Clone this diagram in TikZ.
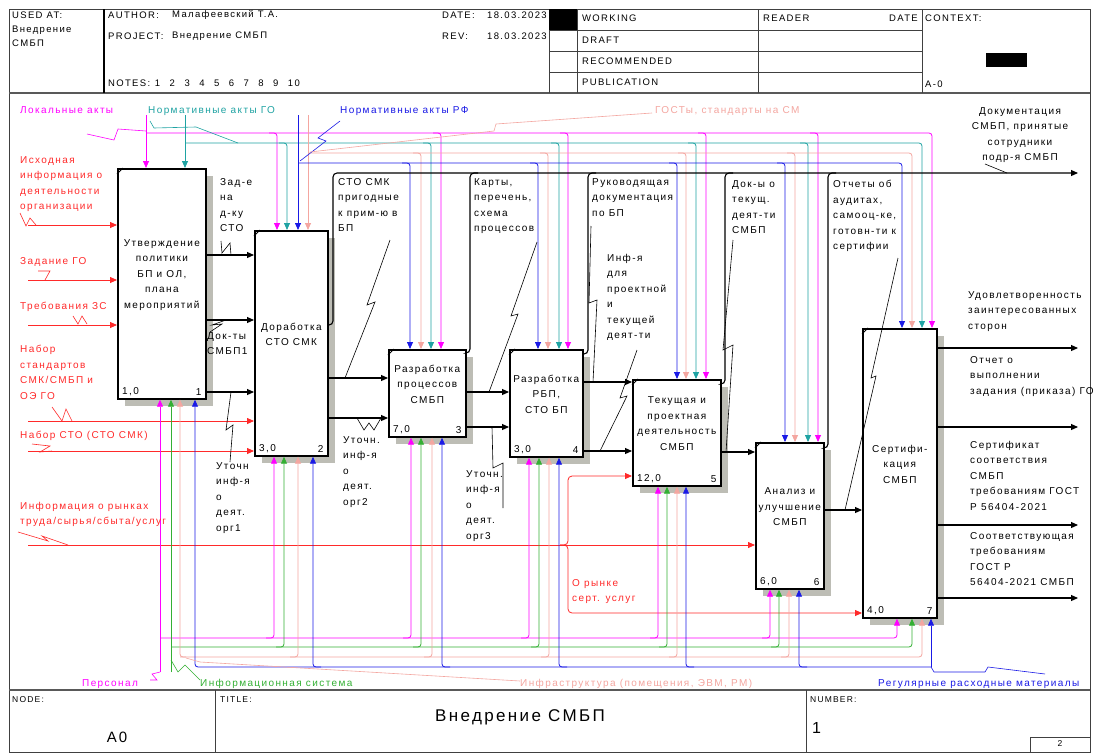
\documentclass[tikz,border=0pt]{standalone}
\usepackage{fontspec}
\setmainfont{Liberation Sans}[LetterSpace=14]
\usetikzlibrary{arrows.meta, calc}
\definecolor{cMag}{HTML}{FF00FF}
\definecolor{cTeal}{HTML}{1FA3A3}
\definecolor{cBlue}{HTML}{1A1AE6}
\definecolor{cSalm}{HTML}{F4A6A0}
\definecolor{cGreen}{HTML}{33B033}
\definecolor{cRed}{HTML}{FF2A2A}
\definecolor{cShade}{HTML}{BDBDB5}

\begin{document}
\begin{tikzpicture}[x=1pt, y=-1pt,
    every node/.style={inner sep=0pt, font=\fontsize{10}{15.5}\selectfont},
    txt/.style={align=left, anchor=north west},
    hdr/.style={anchor=west, font=\fontsize{9.5}{14}\selectfont},
    fn/.style={draw, line width=1.7pt, fill=white, anchor=north west},
    fntxt/.style={align=center},
    num/.style={font=\fontsize{10}{12}\selectfont},
    arr/.style={-{Triangle[length=7pt,width=6pt]}},
    ln/.style={line width=1.1pt},
    lead/.style={line width=0.6pt},
    mag/.style={draw=cMag, line width=0.8pt},
    tea/.style={draw=cTeal, line width=0.8pt},
    blu/.style={draw=cBlue, line width=0.8pt},
    sal/.style={draw=cSalm, line width=0.8pt},
    grn/.style={draw=cGreen, line width=0.8pt},
    rd/.style={draw=cRed, line width=0.8pt}]
  \useasboundingbox[fill=white] (0,0) rectangle (1098,755);

  % frame, header and footer
  \draw[line width=1pt, black!75] (9,9) rectangle (1090,752);
  \draw[line width=1.3pt, black!65] (9,93) -- (1090,93);
  \draw[line width=1.3pt, black!65] (9,690) -- (1090,690);
  \draw[line width=1.2pt] (104,9) -- (104,93);
  \foreach \x in {549,577,758,922} \draw[black!75] (\x,9) -- (\x,93);
  \foreach \y in {30,51,72} \draw[black!75] (549,\y) -- (922,\y);
  \fill (549,9) rectangle (577,30);
  \fill (986,53) rectangle (1027,67);
  \draw[black!75] (215,690) -- (215,752);
  \draw[black!75] (806,690) -- (806,752);
  \draw[black!75] (1030,737) rectangle (1090,752);

  \node[txt, font=\fontsize{9.5}{14}\selectfont] (usedat) at (12,12) {USED AT:\\Внедрение\\СМБП};
  \node[hdr] (author) at (108,15) {AUTHOR:};
  \node[hdr] (authorv) at (172,15) {Малафеевский Т.А.};
  \node[hdr] (project) at (108,36) {PROJECT:};
  \node[hdr] (projectv) at (172,36) {Внедрение СМБП};
  \node[hdr] (notes) at (108,83) {NOTES:\enspace 1\enspace\enspace 2\enspace\enspace 3\enspace\enspace 4\enspace\enspace 5\enspace\enspace 6\enspace\enspace 7\enspace\enspace 8\enspace\enspace 9\enspace\enspace 10};
  \node[hdr] (date) at (442,15) {DATE:};
  \node[hdr] (datev) at (487,15) {18.03.2023};
  \node[hdr] (rev) at (442,36) {REV:};
  \node[hdr] (revv) at (487,36) {18.03.2023};
  \node[hdr] (working) at (582,18) {WORKING};
  \node[hdr] (draft) at (582,40) {DRAFT};
  \node[hdr] (recom) at (582,61) {RECOMMENDED};
  \node[hdr] (public) at (582,82) {PUBLICATION};
  \node[hdr] (reader) at (763,18) {READER};
  \node[hdr, anchor=east] (rdate) at (918,18) {DATE};
  \node[hdr] (context) at (925,18) {CONTEXT:};
  \node[hdr] (ctxnode) at (925,84) {A-0};

  \node[hdr, font=\fontsize{8.5}{10}\selectfont] (nodel) at (12,700) {NODE:};
  \node[font=\fontsize{15}{18}\selectfont] (nodev) at (117,737) {A0};
  \node[hdr, font=\fontsize{8.5}{10}\selectfont] (titlel) at (220,700) {TITLE:};
  \node[font=\fontsize{17}{20}\selectfont] (title) at (520,717) {Внедрение СМБП};
  \node[hdr, font=\fontsize{8.5}{10}\selectfont] (numberl) at (810,700) {NUMBER:};
  \node[hdr, font=\fontsize{16}{18}\selectfont] (numberv) at (812,728) {1};
  \node[font=\fontsize{8.5}{10}\selectfont] (page) at (1060,744) {2};

  % function boxes
  \foreach \n/\x/\y/\w/\h/\m/\na/\nb in {
      1/117/168/88/230/{Утверждение\\политики\\БП и ОЛ,\\плана\\мероприятий}/{1,0}/1,
      2/254/230/73/225/{Доработка\\СТО СМК}/{3,0}/2,
      3/388/349/77/87/{Разработка\\процессов\\СМБП}/{7,0}/3,
      4/509/349/73/107/{Разработка\\РБП,\\СТО БП}/{3,0}/4,
      5/632/379/88/106/{Текущая и\\проектная\\деятельность\\СМБП}/{12,0}/5,
      6/755/442/68/146/{Анализ и\\улучшение\\СМБП}/{6,0}/6,
      7/862/328/74/289/{Сертифи-\\кация\\СМБП}/{4,0}/7} {
    \fill[cShade] (\x+8,\y+8) rectangle ++(\w,\h);
    \node[fn, minimum width=\w pt, minimum height=\h pt] (b\n) at (\x,\y) {};
    \node[fntxt] (t\n) at ([yshift=9pt]b\n.center) {\m};
    \node[num, anchor=south west] (l\n) at ([shift={(5pt,4pt)}]b\n.south west) {\na};
    \node[num, anchor=south east] (r\n) at ([shift={(-5pt,4pt)}]b\n.south east) {\nb};
    \draw[line width=0.8pt] ([yshift=-6pt]b\n.north west) -- ([xshift=6pt]b\n.north west);
  }

  % boundary points
  \coordinate (i1) at (28,225);
  \coordinate (i2) at (28,280);
  \coordinate (i3) at (28,325);
  \coordinate (i4) at (28,421);
  \coordinate (i5) at (28,451);
  \coordinate (i6) at (28,545);
  \coordinate (o1) at (1078,173);
  \coordinate (o2) at (1078,348);
  \coordinate (o3) at (1078,427);
  \coordinate (o4) at (1078,525);
  \coordinate (o5) at (1078,598);

  % inputs
  \foreach \i/\b in {i1/b1, i2/b1, i3/b1, i4/b2, i5/b2, i6/b6}
    \draw[rd, arr] (\i) -- (\b.west |- \i);
  \draw[rd, arr, rounded corners=4pt] (560,545) -| (568,476) -- (b5.west |- 0,476);
  \draw[rd, arr, rounded corners=4pt] (560,545) -| (568,613) -- (b7.west |- 0,613);

  % controls
  \draw[mag, arr] (146,115) -- (b1.north -| 146,0);
  \draw[mag, arr, rounded corners=3pt] (146,133) -| (b7.north -| 932,0);
  \foreach \n/\x in {2/277, 3/441, 4/568, 5/706, 6/818}
    \draw[mag, arr, rounded corners=3pt] (\x-8,133) -| (b\n.north -| \x,0);
  \draw[tea, arr] (185,115) -- (b1.north -| 185,0);
  \draw[tea, arr, rounded corners=3pt] (185,143) -| (b7.north -| 922,0);
  \foreach \n/\x in {2/287, 3/431, 4/559, 5/696, 6/808}
    \draw[tea, arr, rounded corners=3pt] (\x-8,143) -| (b\n.north -| \x,0);
  \draw[sal, arr] (308,115) -- (b2.north -| 308,0);
  \draw[sal, arr, rounded corners=3pt] (308,153) -| (b7.north -| 912,0);
  \foreach \n/\x in {3/421, 4/548, 5/686, 6/795}
    \draw[sal, arr, rounded corners=3pt] (\x-8,153) -| (b\n.north -| \x,0);
  \draw[blu, arr] (298,115) -- (b2.north -| 298,0);
  \draw[blu, arr, rounded corners=3pt] (298,163) -| (b7.north -| 902,0);
  \foreach \n/\x in {3/410, 4/538, 5/677, 6/785}
    \draw[blu, arr, rounded corners=3pt] (\x-8,163) -| (b\n.north -| \x,0);

  % mechanisms
  \draw[mag, arr] (160,672) -- (b1.south -| 160,0);
  \draw[mag, arr, rounded corners=3pt] (160,638) -| (b7.south -| 897,0);
  \foreach \n/\x in {2/274, 3/411, 4/529, 5/658, 6/770}
    \draw[mag, arr, rounded corners=3pt] (\x-8,638) -| (b\n.south -| \x,0);
  \draw[grn, arr] (171,672) -- (b1.south -| 171,0);
  \draw[grn, arr, rounded corners=3pt] (171,647) -| (b7.south -| 912,0);
  \foreach \n/\x in {2/284, 3/421, 4/539, 5/667, 6/779}
    \draw[grn, arr, rounded corners=3pt] (\x-8,647) -| (b\n.south -| \x,0);
  \draw[sal, arr, rounded corners=3pt] (186,657) -| (b1.south -| 180,0);
  \draw[sal, arr, rounded corners=3pt] (180,657) -| (b7.south -| 922,0);
  \foreach \n/\x in {2/298, 3/432, 4/549, 5/677, 6/789}
    \draw[sal, arr, rounded corners=3pt] (\x-8,657) -| (b\n.south -| \x,0);
  \draw[blu, arr] (931,667) -- (b7.south -| 931,0);
  \draw[blu, arr, rounded corners=3pt] (931,667) -| (b1.south -| 195,0);
  \foreach \n/\x in {2/313, 3/442, 4/559, 5/686, 6/799}
    \draw[blu, arr, rounded corners=3pt] (\x+8,667) -| (b\n.south -| \x,0);

  % flows between boxes
  \foreach \a/\b/\y in {b1/b2/255, b1/b2/320, b1/b2/392, b2/b3/378, b2/b3/418,
                        b3/b4/392, b3/b4/427, b4/b5/382, b4/b5/451, b5/b6/452, b6/b7/510}
    \draw[ln, arr] (\a.east |- 0,\y) -- (\b.west |- 0,\y);

  % outputs
  \draw[ln, arr, rounded corners=4pt] (b2.east |- 0,325) -| (333,173) -- (o1);
  \foreach \n/\y/\x in {3/353/470, 4/354/588, 5/384/725, 6/448/828}
    \draw[ln, rounded corners=4pt] (b\n.east |- 0,\y) -| (\x,173) -- (\x+8,173);
  \foreach \y/\o in {348/o2, 427/o3, 525/o4, 598/o5}
    \draw[ln, arr] (b7.east |- 0,\y) -- (\o);

  % arrow labels
  \node[txt, text=cMag] (lakty) at (20,106) {Локальные акты};
  \node[txt, text=cTeal] (nago) at (148,106) {Нормативные акты ГО};
  \node[txt, text=cBlue] (narf) at (340,106) {Нормативные акты РФ};
  \node[txt, text=cSalm] (gost) at (655,106) {ГОСТы, стандарты на СМ};
  \node[txt, text=cRed] (isx) at (20,156) {Исходная\\информация о\\деятельности\\организации};
  \node[txt, text=cRed] (zgo) at (20,257) {Задание ГО};
  \node[txt, text=cRed] (trzs) at (20,302) {Требования ЗС};
  \node[txt, text=cRed] (nabst) at (20,345) {Набор\\стандартов\\СМК/СМБП и\\ОЭ ГО};
  \node[txt, text=cRed] (nabsto) at (20,431) {Набор СТО (СТО СМК)};
  \node[txt, text=cRed] (infr) at (20,502) {Информация о рынках\\труда/сырья/сбыта/услуг};
  \node[txt, text=cRed] (orynke) at (572,579) {О рынке\\серт. услуг};
  \node[txt] (zadsto) at (220,178) {Зад-е\\на\\д-ку\\СТО};
  \node[txt] (doksmbp) at (207,332) {Док-ты\\СМБП1};
  \node[txt] (utoch1) at (216,462) {Уточн\\инф-я\\о\\деят.\\орг1};
  \node[txt] (stosmk) at (338,178) {СТО СМК\\пригодные\\к прим-ю в\\БП};
  \node[txt] (utoch2) at (343,436) {Уточн.\\инф-я\\о\\деят.\\орг2};
  \node[txt] (karty) at (474,178) {Карты,\\перечень,\\схема\\процессов};
  \node[txt] (utoch3) at (466,470) {Уточн.\\инф-я\\о\\деят.\\орг3};
  \node[txt] (rukdok) at (592,178) {Руководящая\\документация\\по БП};
  \node[txt] (infproj) at (607,254) {Инф-я\\для\\проектной\\и\\текущей\\деят-ти};
  \node[txt] (doktek) at (732,180) {Док-ы о\\текущ.\\деят-ти\\СМБП};
  \node[txt] (otchaud) at (833,180) {Отчеты об\\аудитах,\\самооц-ке,\\готовн-ти к\\сертифии};
  \node[txt, align=center, anchor=north] (dokum) at (1020,107) {Документация\\СМБП, принятые\\сотрудники\\подр-я СМБП};
  \node[txt] (udovl) at (968,291) {Удовлетворенность\\заинтересованных\\сторон};
  \node[txt] (otchet) at (970,356) {Отчет о\\выполнении\\задания (приказа) ГО};
  \node[txt] (sert) at (970,441) {Сертификат\\соответствия\\СМБП\\требованиям ГОСТ\\Р 56404-2021};
  \node[txt] (sootv) at (970,532) {Соответствующая\\требованиям\\ГОСТ Р\\56404-2021 СМБП};
  \node[txt, text=cMag] (pers) at (82,679) {Персонал};
  \node[txt, text=cGreen] (infsys) at (200,679) {Информационная система};
  \node[txt, text=cSalm] (infra) at (520,679) {Инфраструктура (помещения, ЭВМ, РМ)};
  \node[txt, text=cBlue] (regul) at (878,679) {Регулярные расходные материалы};

  % label leaders
  \draw[cMag, lead] (87,134) -- (114,140) -- (118,129) -- (146,131);
  \draw[cTeal, lead] (150,121) -- (154,128) -- (196,127) -- (238,143);
  \draw[cBlue, lead] (340,121) -- (318,138) -- (326,141) -- (300,161);
  \draw[cSalm, lead] (652,113) -- (496,124) -- (494,131) -- (310,152);
  \draw[cRed, lead] (20,213) -- (26,226) -- (30,218) -- (36,225);
  \draw[cRed, lead] (38,271) -- (50,271) -- (45,280);
  \draw[cRed, lead] (73,316) -- (78,324) -- (82,316) -- (87,324);
  \draw[cRed, lead] (52,407) -- (62,421) -- (66,409) -- (72,421);
  \draw[cRed, lead] (32,444) -- (50,446) -- (40,452) -- (52,451);
  \draw[cRed, lead] (18,532) -- (48,541) -- (42,536) -- (68,545);
  \draw[lead] (221,241) -- (222,253) -- (230,243) -- (231,255);
  \draw[lead] (210,332) -- (222,324) -- (212,325) -- (226,320);
  \draw[lead] (230,462) -- (233,425) -- (226,430) -- (231,392);
  \draw[lead] (390,240) -- (367,305) -- (375,302) -- (345,378);
  \draw[lead] (357,418) -- (364,430) -- (369,423) -- (374,430) -- (381,418);
  \draw[lead] (537,242) -- (511,316) -- (518,314) -- (489,392);
  \draw[lead] (503,508) -- (503,463) -- (493,468) -- (492,427);
  \draw[lead] (591,226) -- (589,303) -- (597,300) -- (593,382);
  \draw[lead] (637,350) -- (620,398) -- (627,396) -- (600,451);
  \draw[lead] (733,240) -- (723,350) -- (733,345) -- (726,452);
  \draw[lead] (898,258) -- (871,378) -- (876,376) -- (845,510);
  \draw[lead] (985,164) -- (1007,173);
  \draw[cMag, lead] (150,680) -- (157,680) -- (152,674) -- (160,672);
  \draw[cGreen, lead] (171,660) -- (178,672) -- (185,665) -- (200,680);
  \draw[cSalm, lead] (186,658) -- (200,662) -- (520,681);
  \draw[cBlue, lead] (931,667) -- (934,672) -- (985,672) -- (988,667) -- (1045,674);
\end{tikzpicture}
\end{document}
